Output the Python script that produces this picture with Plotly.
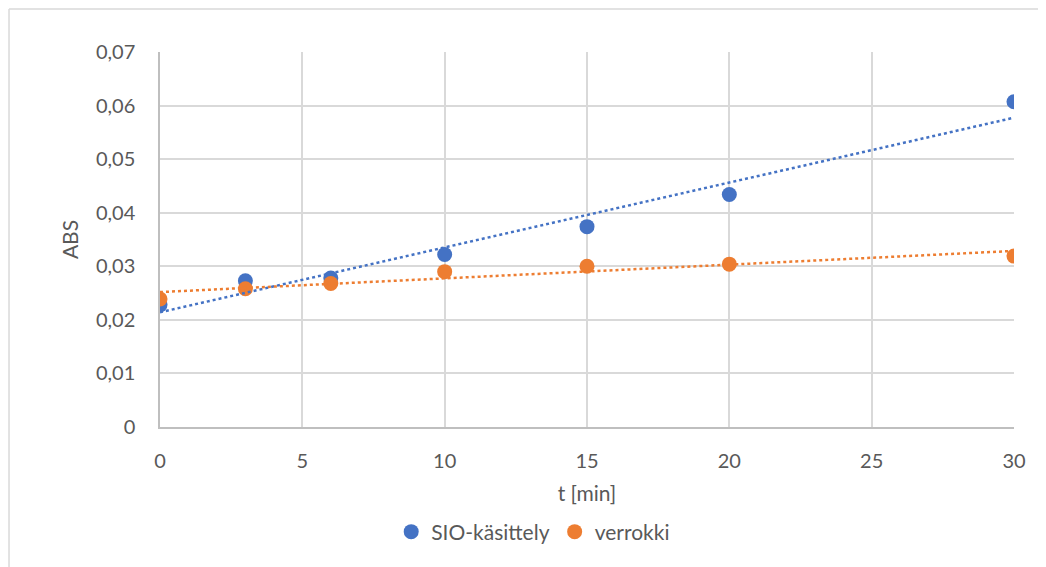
import numpy as np
import plotly.graph_objects as go

t_min = [0, 3, 6, 10, 15, 20, 30]
sio_kasittely = [0.0228, 0.0273, 0.0278, 0.0322, 0.0374, 0.0434, 0.0607]
verrokki = [0.0239, 0.0258, 0.0268, 0.0290, 0.0300, 0.0304, 0.0319]
series_names = ["SIO-käsittely", "verrokki"]
colors = ["#4472C4", "#ED7D31"]

fig = go.Figure()
for name, vals, col in zip(series_names, [sio_kasittely, verrokki], colors):
    fig.add_trace(go.Scatter(x=t_min, y=vals, mode="markers", name=name,
                             marker=dict(color=col, size=15, line=dict(width=0))))
for name, vals, col in zip(series_names, [sio_kasittely, verrokki], colors):
    k, b = np.polyfit(t_min, vals, 1)
    xs = [min(t_min), max(t_min)]
    fig.add_trace(go.Scatter(x=xs, y=[k * x + b for x in xs], mode="lines",
                             line=dict(color=col, width=2.5, dash="dot"),
                             showlegend=False, hoverinfo="skip"))

font_fam = "Lato, 'Open Sans', sans-serif"
fig.update_layout(
    width=1046, height=567,
    margin=dict(l=152, r=40, t=44, b=148),
    paper_bgcolor="white", plot_bgcolor="white",
    font=dict(family=font_fam, size=20, color="#595959"),
    showlegend=True,
    legend=dict(orientation="h", x=0.437, xanchor="center", y=-0.28, yanchor="middle",
                font=dict(size=21, color="#595959"), itemsizing="trace",
                traceorder="normal", itemwidth=30, tracegroupgap=0),
    xaxis=dict(range=[0, 30], tickvals=[0, 5, 10, 15, 20, 25, 30], showgrid=True,
               gridcolor="#D9D9D9", gridwidth=1.5, zeroline=False,
               showline=True, linecolor="#BFBFBF", linewidth=1.5,
               ticks="", ticklabelstandoff=15, tickfont=dict(size=20),
               title=dict(text="t [min]", font=dict(size=21, color="#595959"), standoff=16)),
    yaxis=dict(range=[0, 0.07], tickvals=[0, 0.01, 0.02, 0.03, 0.04, 0.05, 0.06, 0.07],
               ticktext=["0", "0,01", "0,02", "0,03", "0,04", "0,05", "0,06", "0,07"],
               showgrid=True, gridcolor="#D9D9D9", gridwidth=1.5, zeroline=False,
               showline=True, linecolor="#BFBFBF", linewidth=1.5,
               ticks="", ticklabelstandoff=19, tickfont=dict(size=20),
               title=dict(text="ABS", font=dict(size=21, color="#595959"), standoff=12)),
)
# outer chart frame (left and top edges visible in the reference crop)
fig.add_shape(type="line", xref="paper", yref="paper", x0=-0.1768, x1=-0.1768, y0=-0.5, y1=1.1147,
              line=dict(color="#D9D9D9", width=1.5))
fig.add_shape(type="line", xref="paper", yref="paper", x0=-0.1768, x1=1.2, y0=1.1147, y1=1.1147,
              line=dict(color="#D9D9D9", width=1.5))

fig.write_html("out.html")
